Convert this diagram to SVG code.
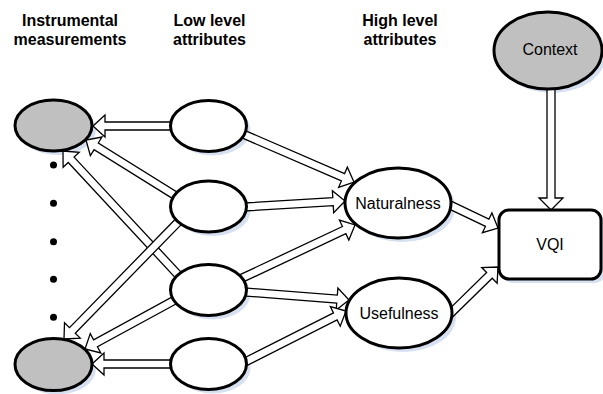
<svg xmlns="http://www.w3.org/2000/svg" width="603" height="394" viewBox="0 0 603 394">
<style>
  .hdr{font-family:"Liberation Sans",Arial,sans-serif;font-size:16px;font-weight:bold;fill:#000;text-anchor:middle}
  .lbl{font-family:"Liberation Sans",Arial,sans-serif;font-size:16px;fill:#000;text-anchor:middle}
  .shadow{fill:#d7e0f1;stroke:none}
  .node{fill:#fff;stroke:#000;stroke-width:3}
  .gray{fill:#c0c0c0;stroke:#000;stroke-width:3}
  .arr{fill:#fff;stroke:#000;stroke-width:1.3;stroke-linejoin:miter}
  .dot{fill:#000}
</style>
<rect width="603" height="394" fill="#fff"/>

<g id="headers">
  <text class="hdr" x="70" y="25.5">Instrumental</text>
  <text class="hdr" x="70" y="45">measurements</text>
  <text class="hdr" x="209.5" y="25.5">Low level</text>
  <text class="hdr" x="209.5" y="45">attributes</text>
  <text class="hdr" x="400" y="25.5">High level</text>
  <text class="hdr" x="400" y="45">attributes</text>
</g>

<g id="shadows">
  <ellipse class="shadow" cx="57.5" cy="129.5" rx="38.5" ry="25.5"/>
  <ellipse class="shadow" cx="57.5" cy="368.5" rx="38.5" ry="26"/>
  <ellipse class="shadow" cx="212.5" cy="130" rx="38" ry="25.5"/>
  <ellipse class="shadow" cx="212.5" cy="210.5" rx="38" ry="25.5"/>
  <ellipse class="shadow" cx="212.5" cy="294" rx="38" ry="25.5"/>
  <ellipse class="shadow" cx="212.5" cy="368" rx="38" ry="25.5"/>
  <ellipse class="shadow" cx="402" cy="207" rx="53" ry="35"/>
  <ellipse class="shadow" cx="403" cy="317" rx="53" ry="35"/>
  <ellipse class="shadow" cx="552" cy="54.5" rx="54" ry="38.5"/>
  <rect class="shadow" x="503" y="214" width="102" height="69" rx="10"/>
</g>

<g id="connectors">
  <polygon class="arr" transform="translate(93 126) rotate(180)" points="-80,-4 -12,-4 -12,-11 0,0 -12,11 -12,4 -80,4"/>
  <polygon class="arr" transform="translate(86 140) rotate(-148.1)" points="-106,-4 -12,-4 -12,-11 0,0 -12,11 -12,4 -106,4"/>
  <polygon class="arr" transform="translate(63 151) rotate(-132.9)" points="-170.5,-4 -12,-4 -12,-11 0,0 -12,11 -12,4 -170.5,4"/>
  <polygon class="arr" transform="translate(64 339) rotate(134.3)" points="-164.8,-4 -12,-4 -12,-11 0,0 -12,11 -12,4 -164.8,4"/>
  <polygon class="arr" transform="translate(85 349) rotate(151.4)" points="-102.5,-4 -12,-4 -12,-11 0,0 -12,11 -12,4 -102.5,4"/>
  <polygon class="arr" transform="translate(92 364) rotate(180)" points="-81,-4 -12,-4 -12,-11 0,0 -12,11 -12,4 -81,4"/>
  <polygon class="arr" transform="translate(354 182) rotate(23.4)" points="-120.9,-4 -12,-4 -12,-11 0,0 -12,11 -12,4 -120.9,4"/>
  <polygon class="arr" transform="translate(345 201) rotate(-3.4)" points="-101.2,-4 -12,-4 -12,-11 0,0 -12,11 -12,4 -101.2,4"/>
  <polygon class="arr" transform="translate(355 225) rotate(-25.2)" points="-127,-4 -12,-4 -12,-11 0,0 -12,11 -12,4 -127,4"/>
  <polygon class="arr" transform="translate(349 300) rotate(4.4)" points="-105.3,-4 -12,-4 -12,-11 0,0 -12,11 -12,4 -105.3,4"/>
  <polygon class="arr" transform="translate(346 311) rotate(-26.8)" points="-115.4,-4 -12,-4 -12,-11 0,0 -12,11 -12,4 -115.4,4"/>
  <polygon class="arr" transform="translate(498 228) rotate(25.6)" points="-55.5,-4 -12,-4 -12,-11 0,0 -12,11 -12,4 -55.5,4"/>
  <polygon class="arr" transform="translate(498 267) rotate(-44.4)" points="-70,-4 -12,-4 -12,-11 0,0 -12,11 -12,4 -70,4"/>
  <polygon class="arr" transform="translate(551 210) rotate(90)" points="-124,-4 -12,-4 -12,-12 0,0 -12,12 -12,4 -124,4"/>
</g>

<g id="dots">
  <circle class="dot" cx="53.5" cy="165" r="3.5"/>
  <circle class="dot" cx="53.5" cy="203.3" r="3.5"/>
  <circle class="dot" cx="53.5" cy="241.7" r="3.5"/>
  <circle class="dot" cx="53.5" cy="279.3" r="3.5"/>
  <circle class="dot" cx="53.5" cy="317.3" r="3.5"/>
</g>

<g id="instr1"><ellipse class="gray" cx="53.5" cy="125.5" rx="38.5" ry="25.5"/></g>
<g id="instr2"><ellipse class="gray" cx="53.5" cy="364.5" rx="38.5" ry="26"/></g>
<g id="low1"><ellipse class="node" cx="208.5" cy="126" rx="38" ry="25.5"/></g>
<g id="low2"><ellipse class="node" cx="208.5" cy="206.5" rx="38" ry="25.5"/></g>
<g id="low3"><ellipse class="node" cx="208.5" cy="290" rx="38" ry="25.5"/></g>
<g id="low4"><ellipse class="node" cx="208.5" cy="364" rx="38" ry="25.5"/></g>
<g id="naturalness">
  <ellipse class="node" cx="398" cy="203" rx="53" ry="35"/>
  <text class="lbl" x="398" y="208.5">Naturalness</text>
</g>
<g id="usefulness">
  <ellipse class="node" cx="399" cy="313" rx="53" ry="35"/>
  <text class="lbl" x="399" y="318.5">Usefulness</text>
</g>
<g id="context">
  <ellipse class="gray" cx="548" cy="50.5" rx="54" ry="38.5"/>
  <text class="lbl" x="550" y="55">Context</text>
</g>
<g id="vqi">
  <rect class="node" x="499" y="210" width="102" height="69" rx="10"/>
  <text class="lbl" x="550" y="250">VQI</text>
</g>
</svg>
